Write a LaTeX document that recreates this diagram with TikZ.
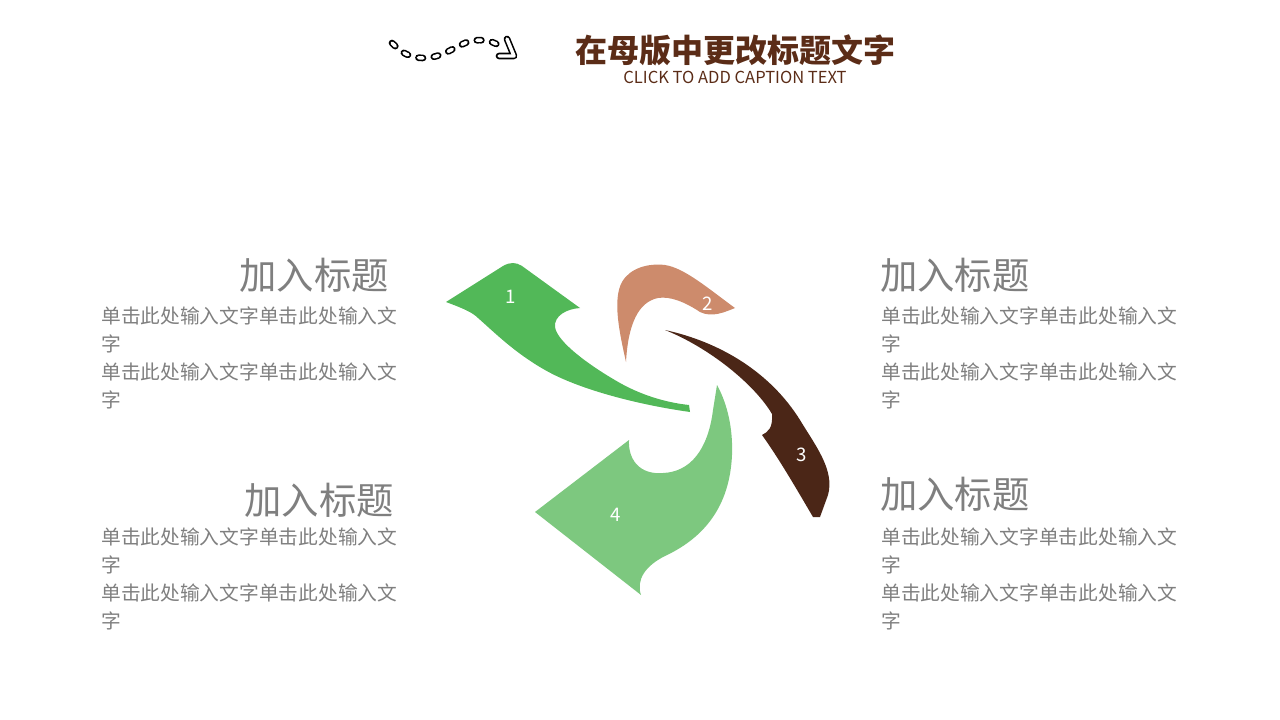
\documentclass[tikz,border=0pt]{standalone}
\usepackage{fontspec}
\setmainfont{Noto Sans CJK SC}
\definecolor{titlebrown}{HTML}{5B2C17}
\definecolor{textgray}{HTML}{7F7F7F}
\definecolor{leafone}{HTML}{52B858}
\definecolor{leaftwo}{HTML}{CD8B6C}
\definecolor{leafthree}{HTML}{4B2617}
\definecolor{leaffour}{HTML}{7DC87F}
\begin{document}
\begin{tikzpicture}[x=0.75pt,y=-0.75pt,
  headtext/.style={inner sep=0, text=textgray, font=\fontsize{28}{32}\selectfont},
  bodytext/.style={inner sep=0, text=textgray, align=left, font=\fontsize{14.8}{20.8}\selectfont},
  numtext/.style={inner sep=0, text=white, font=\fontsize{14}{16}\selectfont},
  hollow/.style={line width=1.2pt, double=white, double distance=2.6pt, line cap=round, line join=round}]
\useasboundingbox (0,0) rectangle (1280,720);

% title
\node (title) [inner sep=0, text=titlebrown, font=\fontsize{24}{28}\selectfont\bfseries] at (735,50) {在母版中更改标题文字};
\node (caption) [inner sep=0, text=titlebrown, font=\fontsize{12.4}{14}\selectfont] at (735,77) {CLICK TO ADD CAPTION TEXT};

% dashed squiggle
\draw [hollow, dash pattern=on 3.4pt off 8.2pt]
  plot[smooth, tension=.7] coordinates {(392,43) (406,54) (423,58) (440,55) (455,48) (471,41) (488,41) (500,46)};
\draw [hollow] (507,39) -- (514,56) -- (499,56);

% the four leaves
\fill [leafone] (446,302) -- (503,266) .. controls (510,262) and (516,262) .. (522,266) -- (580,308)
  .. controls (566,309) and (554,316) .. (555,327) .. controls (557,342) and (590,366) .. (620,383)
  .. controls (645,397) and (670,403) .. (689,405) -- (690,412)
  .. controls (640,405) and (580,390) .. (545,370) .. controls (515,353) and (495,333) .. (478,318)
  .. controls (472,312) and (462,308) .. (446,302) -- cycle;
\fill [leaftwo] (626,362) .. controls (620,335) and (612,300) .. (622,282) .. controls (630,268) and (648,263) .. (665,265)
  .. controls (685,268) and (710,290) .. (735,308) .. controls (725,312) and (712,318) .. (700,312)
  .. controls (685,302) and (670,296) .. (658,298) .. controls (638,302) and (628,325) .. (626,362) -- cycle;
\fill [leafthree] (665,330) .. controls (720,342) and (770,372) .. (800,420) .. controls (815,445) and (835,470) .. (828,495)
  -- (820,517) -- (813,517) .. controls (800,495) and (780,460) .. (762,435)
  .. controls (768,432) and (773,428) .. (772,414) .. controls (755,385) and (710,348) .. (665,330) -- cycle;
\fill [leaffour] (717,385) .. controls (728,405) and (733,430) .. (732,455) .. controls (730,500) and (710,535) .. (665,556)
  .. controls (645,566) and (636,580) .. (641,595) -- (535,512) -- (629,440)
  .. controls (628,460) and (640,475) .. (663,473) .. controls (690,472) and (708,450) .. (713,410) -- cycle;

\node (n1) [numtext] at (511,297) {1};
\node (n2) [numtext] at (708,304) {2};
\node (n3) [numtext] at (802,455) {3};
\node (n4) [numtext] at (616,515) {4};

% text blocks
\node (headA) [headtext, anchor=east] at (389,275) {加入标题};
\node (bodyA) [bodytext, anchor=north west] at (101,307) {单击此处输入文字单击此处输入文\\字\\单击此处输入文字单击此处输入文\\字};
\node (headB) [headtext, anchor=west] at (880,275) {加入标题};
\node (bodyB) [bodytext, anchor=north west] at (881,307) {单击此处输入文字单击此处输入文\\字\\单击此处输入文字单击此处输入文\\字};
\node (headC) [headtext, anchor=east] at (394,500) {加入标题};
\node (bodyC) [bodytext, anchor=north west] at (101,528) {单击此处输入文字单击此处输入文\\字\\单击此处输入文字单击此处输入文\\字};
\node (headD) [headtext, anchor=west] at (880,494) {加入标题};
\node (bodyD) [bodytext, anchor=north west] at (881,528) {单击此处输入文字单击此处输入文\\字\\单击此处输入文字单击此处输入文\\字};
\end{tikzpicture}
\end{document}
